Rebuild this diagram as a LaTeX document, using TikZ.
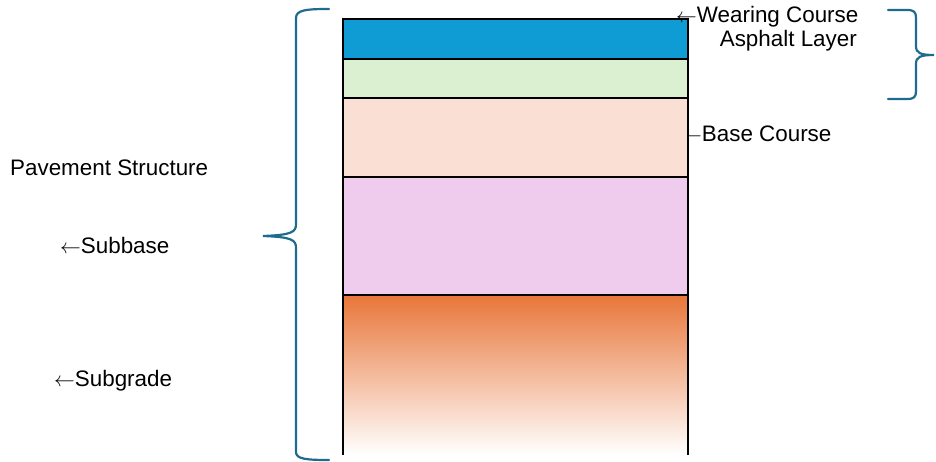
\documentclass[tikz,border=0pt]{standalone}
\usepackage{fontspec}
\setmainfont{Liberation Sans}
\definecolor{wearblue}{HTML}{0F9BD3}
\definecolor{asphgreen}{HTML}{DAF0D0}
\definecolor{basepeach}{HTML}{FAE0D4}
\definecolor{subpink}{HTML}{EFCCEE}
\definecolor{gradeorange}{HTML}{E8763A}
\definecolor{bracecol}{HTML}{1F6B8E}
\newcommand{\larr}{\ensuremath{\leftarrow}}
\begin{document}
\begin{tikzpicture}[x=1pt,y=-1pt,
  lbl/.style={inner sep=0pt,font=\fontsize{22.4}{26}\selectfont,text=black},
  brace/.style={draw=bracecol,line width=2.2pt,line cap=round},
  border/.style={draw=black,line width=2.2pt}]
\useasboundingbox (0,0) rectangle (936,462);
% label behind box (arrow hidden by box)
\node[lbl,anchor=base west] (base) at (681,142) {\larr Base Course};
% layers
\fill[wearblue] (343,19) rectangle (688,59);
\fill[asphgreen] (343,59) rectangle (688,98);
\fill[basepeach] (343,98) rectangle (688,177);
\fill[subpink] (343,177) rectangle (688,295);
\shade[top color=gradeorange,bottom color=white] (343,295) rectangle (688,455);
\draw[border] (343,455) -- (343,19) -- (688,19) -- (688,455);
\draw[border] (343,59) -- (688,59);
\draw[border] (343,98) -- (688,98);
\draw[border] (343,177) -- (688,177);
\draw[border] (343,295) -- (688,295);
% labels
\node[lbl,anchor=base west] (wear) at (676,23) {\larr Wearing Course};
\node[lbl,anchor=base east] (asph) at (857,47) {Asphalt Layer};
\node[lbl,anchor=base west] (pave) at (10,176) {Pavement Structure};
\node[lbl,anchor=base west] (subb) at (60,253) {\larr Subbase};
\node[lbl,anchor=base west] (subg) at (54,386) {\larr Subgrade};
% left brace
\draw[brace] (329,9) .. controls (306,9) and (296,10) .. (296,18) -- (296,224)
  .. controls (296,232) and (292,235) .. (263,236)
  .. controls (292,237) and (296,240) .. (296,248) -- (296,452)
  .. controls (296,459) and (306,460) .. (329,460);
% right brace
\draw[brace] (888,10) -- (907,10) .. controls (914,10) and (916,12) .. (916,18) -- (916,46)
  .. controls (916,53) and (920,55) .. (934,55)
  .. controls (920,55) and (916,57) .. (916,64) -- (916,91)
  .. controls (916,97) and (914,99) .. (907,99) -- (888,99);
\end{tikzpicture}
\end{document}
